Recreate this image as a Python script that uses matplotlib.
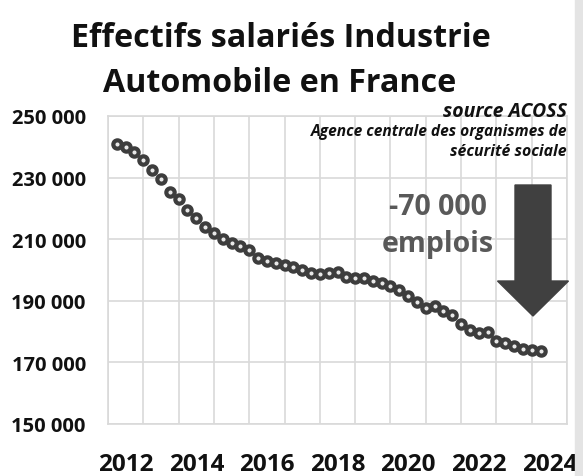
import matplotlib
matplotlib.use("Agg")
import matplotlib.pyplot as plt
import numpy as np
from matplotlib.patches import FancyArrow

# Data: quarterly headcount, 2012 Q1 .. 2024 Q1
values = [240900, 239800, 238400, 235800, 232600, 229500, 225400, 223100,
          219500, 216800, 213900, 212000, 210100, 208800, 207700, 206600,
          203800, 203000, 202200, 201600, 201100, 200100, 199000, 198700,
          199000, 199200, 197600, 197400, 197300, 196300, 195800, 194700,
          193600, 191500, 189700, 187700, 188200, 186800, 185400, 182500,
          180500, 179400, 179800, 177000, 176300, 175400, 174400, 174000,
          173600]
start_year = 2012
years_labels = [2012, 2014, 2016, 2018, 2020, 2022, 2024]
y_ticks = [150000, 170000, 190000, 210000, 230000, 250000]
y_tick_labels = ["150 000", "170 000", "190 000", "210 000", "230 000", "250 000"]

title_lines = ["Effectifs salariés Industrie", "Automobile en France"]

x = start_year + np.arange(len(values)) / 4.0

W, H = 583, 477
fig = plt.figure(figsize=(W / 100, H / 100), dpi=100)
fig.patch.set_facecolor("white")

# light grey strip on the right edge
fig.patches.append(plt.Rectangle((575 / W, 0), 8 / W, 1, transform=fig.transFigure,
                                 color="#e4e4e4", zorder=0))

ax = fig.add_axes([108 / W, 52 / H, 459 / W, 308 / H])
ax.set_xlim(2011.75, 2024.75)
ax.set_ylim(150000, 250000)

grid_c = "#d9d9d9"
for xv in np.arange(2011.75, 2024.76, 1.0):
    ax.axvline(xv, color=grid_c, lw=1.2, zorder=0)
for yv in y_ticks:
    ax.axhline(yv, color=grid_c, lw=1.2, zorder=0)
for s in ax.spines.values():
    s.set_color(grid_c)
    s.set_linewidth(1.2)

ax.plot(x, values, linestyle="none", marker="o", ms=6.0, mew=3.0,
        mec="#3d3d3d", mfc="#e8e8e8", zorder=3)

ax.set_yticks(y_ticks)
ax.set_yticklabels(y_tick_labels, fontsize=14.5, fontweight="bold",
                   family="Open Sans", color="#111111")
ax.set_xticks([yv + 0.25 for yv in years_labels])
ax.set_xticklabels([str(v) for v in years_labels], fontsize=17.5, fontweight="bold",
                   family="Open Sans", color="#111111")
ax.tick_params(axis="both", length=0)
ax.tick_params(axis="y", pad=16)
ax.tick_params(axis="x", pad=20)

# Title
fig.text(281 / W, 1 - 47 / H, title_lines[0], ha="center", va="baseline", fontsize=23.2,
         fontweight="bold", family="Open Sans", color="#111111")
fig.text(280 / W, 1 - 92 / H, title_lines[1], ha="center", va="baseline", fontsize=23.2,
         fontweight="bold", family="Open Sans", color="#111111")

# Source annotation
fig.text(567 / W, 1 - 117 / H, "source ACOSS", ha="right", va="baseline",
         fontsize=14, fontweight="bold", style="italic", family="Open Sans", color="#111111")
fig.text(567 / W, 1 - 136 / H, "Agence centrale des organismes de", ha="right", va="baseline",
         fontsize=11.2, fontweight="bold", style="italic", family="Open Sans", color="#111111")
fig.text(567 / W, 1 - 156 / H, "sécurité sociale", ha="right", va="baseline",
         fontsize=11.4, fontweight="bold", style="italic", family="Open Sans", color="#111111")

# -70 000 emplois
fig.text(438 / W, 1 - 215 / H, "-70 000", ha="center", va="baseline",
         fontsize=20.5, fontweight="bold", family="Open Sans", color="#595959")
fig.text(438 / W, 1 - 252 / H, "emplois", ha="center", va="baseline",
         fontsize=20.5, fontweight="bold", family="Open Sans", color="#595959")

# Big arrow (figure pixel coordinates)
arrow = FancyArrow(533 / W, 1 - 186 / H, 0, -(317 - 186) / H,
                   width=36 / W, head_width=71 / W, head_length=35 / H,
                   length_includes_head=True, transform=fig.transFigure,
                   color="#404040", zorder=5)
fig.patches.append(arrow)

fig.savefig("out.png", dpi=100, facecolor="white")
